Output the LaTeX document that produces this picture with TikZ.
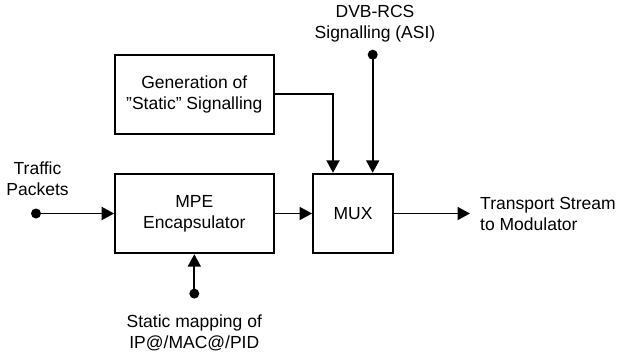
\documentclass[tikz,border=0pt]{standalone}
\usepackage{fontspec}
\setmainfont{Liberation Sans}
\usetikzlibrary{arrows.meta}
\begin{document}
\begin{tikzpicture}[x=1pt,y=-1pt,
  every node/.style={font=\fontsize{17.5}{21}\selectfont, align=center, inner sep=0pt},
  blk/.style={draw, line width=1.9pt, minimum width=158.5pt, minimum height=79.5pt},
  conn/.style={line width=1.9pt, -{Triangle[length=12.5pt,width=13pt]}},
  dotc/.style={circle, fill=black, minimum size=10pt, inner sep=0pt}]
\useasboundingbox (0,0) rectangle (620,353);
\node[blk] (gen) at (194.3,94.3) {Generation of\\\symbol{34}Static\symbol{34} Signalling};
\node[blk] (mpe) at (194.3,213.5) {MPE\\Encapsulator};
\node[blk, minimum width=80pt] (mux) at (353,213.5) {MUX};
% traffic input
\node (traffic) at (37.5,178.5) {Traffic\\Packets};
\node[dotc] (tdot) at (36,213.5) {};
\draw[conn] (tdot.center) -- (mpe.west);
% DVB-RCS
\node (dvb) at (375,24) {DVB-RCS\\Signalling (ASI)};
\node[dotc] (ddot) at (372.7,54.7) {};
\draw[conn] (ddot.center) -- (ddot.center |- mux.north);
% gen to mux
\coordinate (gbend) at (333,94.3);
\draw[conn] (gen.east) -- (gbend) -- (gbend |- mux.north);
% mpe to mux
\draw[conn] (mpe.east) -- (mux.west);
% output
\coordinate (outend) at (470,213.5);
\draw[conn] (mux.east) -- (outend);
\node[anchor=west, align=left] (ts) at (480,213.5) {Transport Stream\\to Modulator};
% static mapping
\node[dotc] (sdot) at (194.3,293.6) {};
\draw[conn] (sdot.center) -- (mpe.south);
\node (smap) at (194.3,332.5) {Static mapping of\\IP@/MAC@/PID};
\end{tikzpicture}
\end{document}
